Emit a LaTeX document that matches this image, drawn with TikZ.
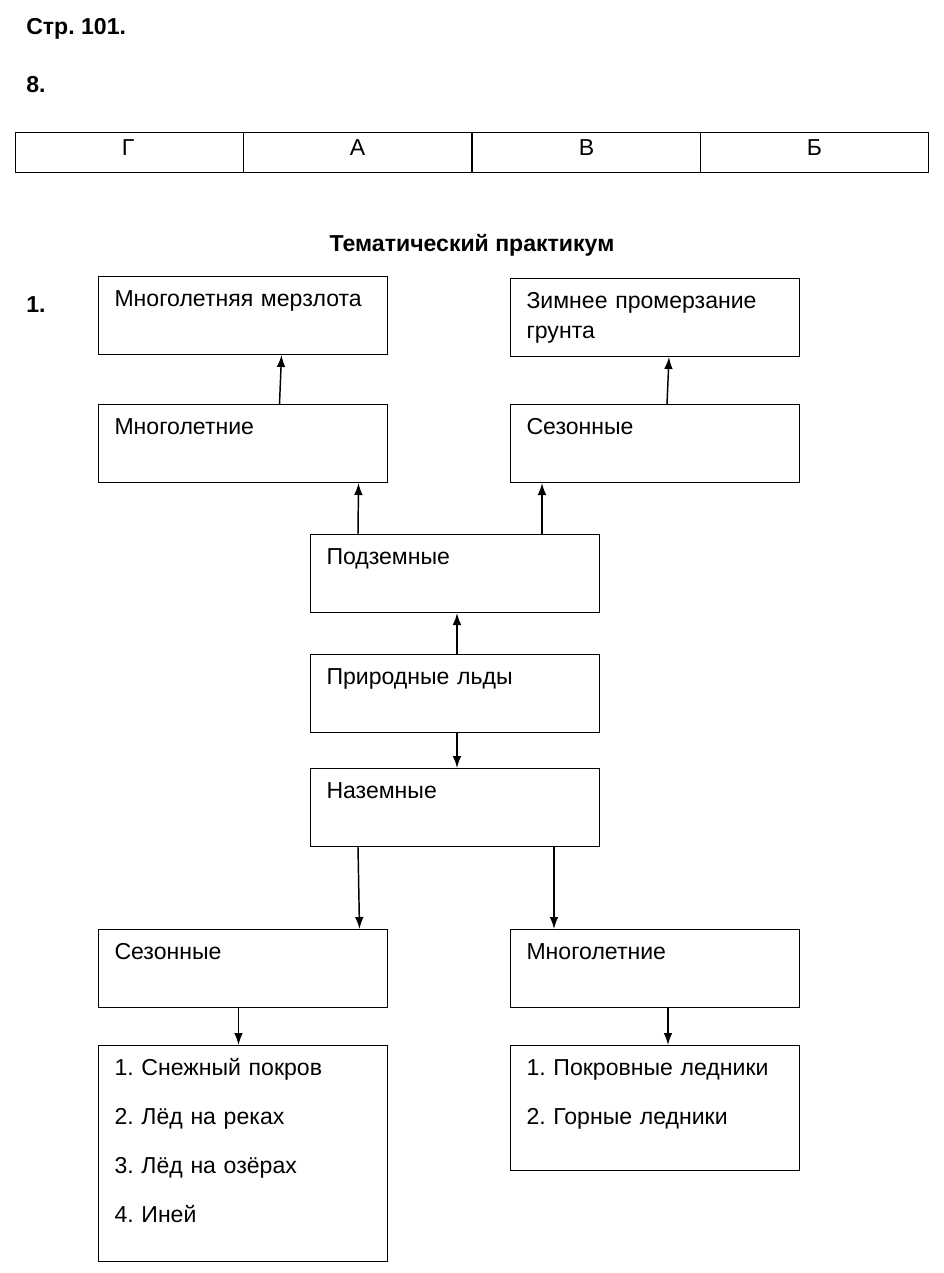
\documentclass[tikz,border=0pt]{standalone}
\usepackage{fontspec}
\setmainfont{Liberation Sans}
\usetikzlibrary{calc}
\usetikzlibrary{positioning}
\usetikzlibrary{arrows.meta}
\frenchspacing

\tikzset{
  box/.style={draw, line width=0.75pt, anchor=north west, align=left,
    text width=192.75pt, inner xsep=12pt, inner ysep=0pt,
    text height=22.5pt, text depth=#1, font=\fontsize{17.3}{22.5}\selectfont},
  box/.default=36pt,
  cell/.style={draw, line width=0.75pt, anchor=north west, inner sep=0pt,
    minimum width=171pt, minimum height=30pt,
    text height=17pt, text depth=13pt, font=\fontsize{17.3}{19}\selectfont},
  head/.style={anchor=base west, inner sep=0pt, font=\fontsize{17.3}{20}\selectfont\bfseries},
}

\begin{document}
\begin{tikzpicture}[x=0.75pt,y=-0.75pt,>={Latex[length=9pt,width=6.5pt]}]
    \useasboundingbox (0,0) rectangle (944,1273);

    \node[head] (page) at (26,35) {Стр. 101.};
    \node[head] (task8) at (26,93) {8.};

    % answer table
    \node[cell] (cellG) at (15,132) {\hspace*{-2pt}Г};
    \node[cell] (cellA) at (243,132) {А};
    \node[cell] (cellV) at (472,132) {В};
    \node[cell] (cellB) at (700,132) {Б};

    \node[head,anchor=base] (title) at (472,252) {Тематический практикум};
    \node[head] (task1) at (26,312) {1.};

    % scheme
    \node[box] (merzl) at (98,276) {Многолетняя мерзлота};
    \node[box] (zimn) at (510,278) {Зимнее промерзание\\грунта};
    \node[box] (pmnog) at (98,404) {Многолетние};
    \node[box] (psez) at (510,404) {Сезонные};
    \node[box] (podz) at (310,534) {Подземные};
    \node[box] (prir) at (310,654) {Природные льды};
    \node[box] (nazem) at (310,768) {Наземные};
    \node[box] (nsez) at (98,929) {Сезонные};
    \node[box] (nmnog) at (510,929) {Многолетние};
    \node[box=139.5pt, font=\fontsize{17.3}{36.75}\selectfont] (nsezlist) at (98,1045)
      {1. Снежный покров\\2. Лёд на реках\\3. Лёд на озёрах\\4. Иней};
    \node[box=71.25pt, font=\fontsize{17.3}{36.75}\selectfont] (nmnoglist) at (510,1045)
      {1. Покровные ледники\\2. Горные ледники};

    \begin{scope}[line width=1.1pt]
    \draw[->] ($(pmnog.north)+(36.5,0)$) -- ($(merzl.south)+(38.5,0)$);
    \draw[->] ($(psez.north)+(12,0)$) -- ($(zimn.south)+(14,0)$);
    \draw[->] ($(podz.north)+(-97,0)$) -- ($(pmnog.south)+(115.5,0)$);
    \draw[->] ($(podz.north)+(87,0)$) -- ($(psez.south)+(-113,0)$);
    \draw[->] ($(prir.north)+(2,0)$) -- ($(podz.south)+(2,0)$);
    \draw[->] ($(prir.south)+(2,0)$) -- ($(nazem.north)+(2,0)$);
    \draw[->] ($(nazem.south)+(-97,0)$) -- ($(nsez.north)+(116.5,0)$);
    \draw[->] ($(nazem.south)+(99,0)$) -- ($(nmnog.north)+(-101,0)$);
    \draw[->] ($(nsez.south)+(-4.5,0)$) -- ($(nsezlist.north)+(-4.5,0)$);
    \draw[->] ($(nmnog.south)+(13,0)$) -- ($(nmnoglist.north)+(13,0)$);
    \end{scope}
\end{tikzpicture}
\end{document}
